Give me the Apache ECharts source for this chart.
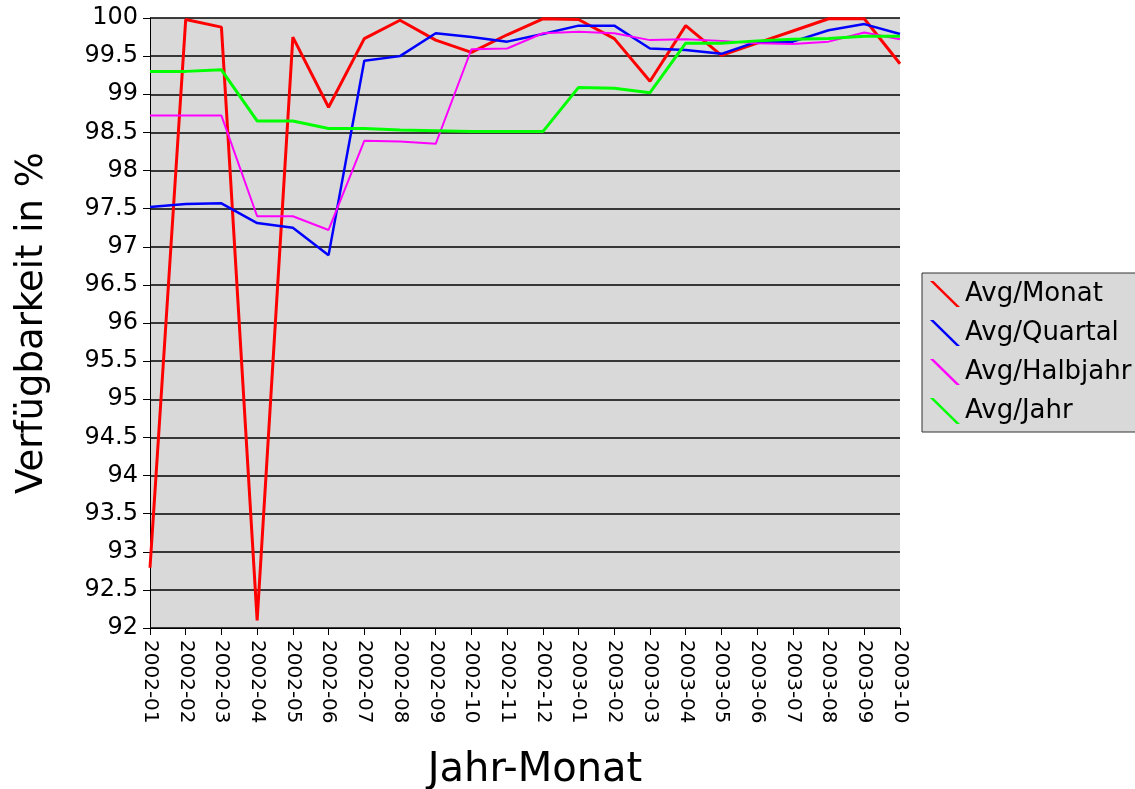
<!DOCTYPE html>
<html lang="de">
<head>
<meta charset="UTF-8">
<script src="https://cdn.jsdelivr.net/npm/echarts@6/dist/echarts.min.js"></script>
<title>Verfuegbarkeit</title>
<style>
  html, body { margin: 0; padding: 0; background: #fff; }
  #chart { width: 1135px; height: 789px; }
</style>
</head>
<body>
<div id="chart"></div>
<script>
var months = ['2002-01', '2002-02', '2002-03', '2002-04', '2002-05', '2002-06', '2002-07', '2002-08',
    '2002-09', '2002-10', '2002-11', '2002-12', '2003-01', '2003-02', '2003-03', '2003-04',
    '2003-05', '2003-06', '2003-07', '2003-08', '2003-09', '2003-10'];
var avgMonat = [92.79, 99.98, 99.88, 92.1, 99.75, 98.83, 99.73, 99.97, 99.71, 99.55, 99.78, 99.99,
    99.98, 99.73, 99.17, 99.9, 99.51, 99.67, 99.83, 99.99, 99.99, 99.4];
var avgQuartal = [97.52, 97.56, 97.57, 97.31, 97.25, 96.89, 99.44, 99.5, 99.8, 99.75, 99.69, 99.79,
    99.9, 99.9, 99.6, 99.58, 99.53, 99.69, 99.69, 99.84, 99.92, 99.79];
var avgHalbjahr = [98.72, 98.72, 98.72, 97.4, 97.4, 97.22, 98.39, 98.38, 98.35, 99.59, 99.6, 99.8,
    99.82, 99.8, 99.71, 99.72, 99.7, 99.67, 99.66, 99.69, 99.81, 99.72];
var avgJahr = [99.3, 99.3, 99.32, 98.65, 98.65, 98.55, 98.55, 98.53, 98.52, 98.51, 98.51, 98.51,
    99.09, 99.08, 99.02, 99.67, 99.67, 99.7, 99.72, 99.73, 99.76, 99.76];

var font = 'DejaVu Sans';
// diagonal stroke used as legend marker
var slash = 'path://M0,0 L3.5,0 L30,26 L26.5,26 Z';

function line(name, data, color, width) {
    return {
        name: name,
        type: 'line',
        data: data,
        symbol: 'none',
        color: color,
        lineStyle: { color: color, width: width },
        animation: false
    };
}

var chart = echarts.init(document.getElementById('chart'));
chart.setOption({
    backgroundColor: '#fff',
    grid: {
        left: 150, top: 18, right: 235, bottom: 161,
        outerBoundsMode: 'none',
        show: true, backgroundColor: '#d9d9d9', borderWidth: 0
    },
    legend: {
        orient: 'vertical',
        left: 922,
        top: 273,
        backgroundColor: '#d9d9d9',
        borderColor: '#333',
        borderWidth: 1,
        borderRadius: 0,
        padding: [8, 30, 8, 8],
        itemWidth: 30,
        itemHeight: 26,
        itemGap: 13,
        icon: slash,
        textStyle: { fontFamily: font, fontSize: 26, color: '#000' },
        data: ['Avg/Monat', 'Avg/Quartal', 'Avg/Halbjahr', 'Avg/Jahr']
    },
    xAxis: {
        type: 'category',
        data: months,
        boundaryGap: false,
        name: 'Jahr-Monat',
        nameLocation: 'middle',
        nameGap: 123,
        nameTextStyle: { fontFamily: font, fontSize: 40, color: '#000', padding: [0, 0, 0, 20] },
        axisLine: { lineStyle: { color: '#000', width: 1 } },
        axisTick: { show: true, length: 7, lineStyle: { color: '#000' } },
        axisLabel: { rotate: -90, interval: 0, fontFamily: font, fontSize: 20, color: '#000', margin: 12 },
        splitLine: { show: false }
    },
    yAxis: {
        type: 'value',
        min: 92,
        max: 100,
        interval: 0.5,
        name: 'Verfügbarkeit in %',
        nameLocation: 'middle',
        nameGap: 99,
        nameTextStyle: { fontFamily: font, fontSize: 37, color: '#000' },
        axisLine: { show: true, lineStyle: { color: '#000', width: 1 } },
        axisTick: { show: true, length: 7, lineStyle: { color: '#000' } },
        axisLabel: { fontFamily: font, fontSize: 24, color: '#000', margin: 12 },
        splitLine: { show: true, lineStyle: { color: '#000', width: 1.5 } }
    },
    series: [
        line('Avg/Monat', avgMonat, '#ff0000', 3),
        line('Avg/Quartal', avgQuartal, '#0000ff', 2.5),
        line('Avg/Halbjahr', avgHalbjahr, '#ff00ff', 2),
        line('Avg/Jahr', avgJahr, '#00ff00', 3)
    ]
});
</script>
</body>
</html>
